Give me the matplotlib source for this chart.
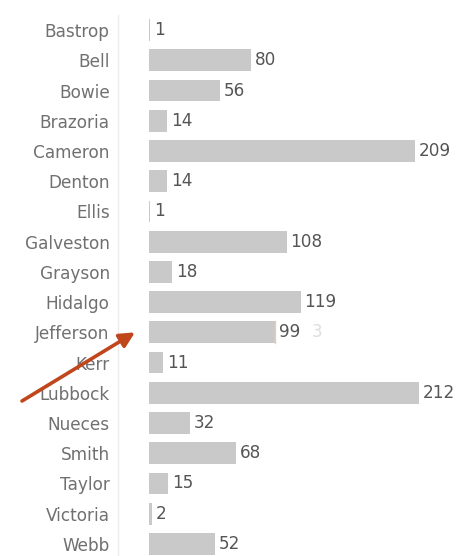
import matplotlib.pyplot as plt

# Cases per county
counties = ["Bastrop", "Bell", "Bowie", "Brazoria", "Cameron", "Denton", "Ellis",
            "Galveston", "Grayson", "Hidalgo", "Jefferson", "Kerr", "Lubbock",
            "Nueces", "Smith", "Taylor", "Victoria", "Webb"]
cases = [1, 80, 56, 14, 209, 14, 1, 108, 18, 119, 99, 11, 212, 32, 68, 15, 2, 52]

fig = plt.figure(figsize=(4.61, 5.56), dpi=100)
ax = fig.add_axes([149 / 461, -3 / 556, 312 / 461, 544 / 556])

rows = list(range(len(counties)))
ax.barh(rows, cases, height=0.72, color="#c9c9c9")

for y, v in zip(rows, cases):
    ax.text(v + 3, y, str(v), va="center", ha="left", fontsize=12.2, color="#555555")

# stray marks on the Jefferson row
j = counties.index("Jefferson")
ax.plot([cases[j], cases[j]], [j - 0.36, j + 0.36], color="#f4c4c4", lw=1)
ax.text(cases[j] + 29, j, "3", va="center", ha="left", fontsize=12.2, color="#dedede")

ax.set_yticks(rows)
ax.set_yticklabels(counties)
ax.set_ylim(len(counties) - 0.5, -0.5)
ax.set_xlim(0, 245)
ax.tick_params(axis="y", length=0, pad=6, labelsize=12.2, labelcolor="#707070")
ax.set_xticks([])

for s in ["top", "right", "bottom"]:
    ax.spines[s].set_visible(False)
ax.spines["left"].set_position(("outward", 22.3))
ax.spines["left"].set_color("#ececec")
ax.spines["left"].set_linewidth(1)

# arrow pointing at Jefferson
ax.annotate("", xy=(-11, j), xycoords="data",
            xytext=(22 / 461, 1 - 401 / 556), textcoords="figure fraction",
            arrowprops=dict(arrowstyle="-|>,head_length=0.9,head_width=0.45",
                            color="#c0461c", lw=2.6, shrinkA=0, shrinkB=0),
            annotation_clip=False)

fig.savefig("out.png", dpi=100)
